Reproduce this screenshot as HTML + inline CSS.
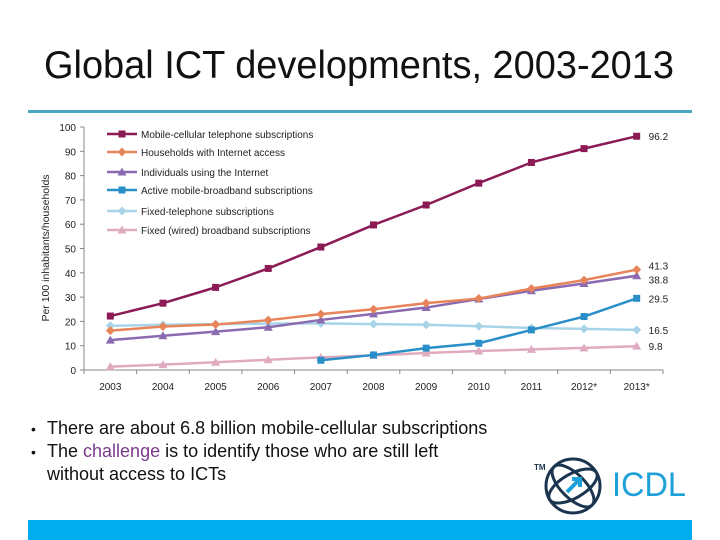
<!DOCTYPE html>
<html><head><meta charset="utf-8"><style>
body{margin:0;width:720px;height:540px;background:#fff;overflow:hidden;font-family:"Liberation Sans",sans-serif;position:relative}
.t{position:absolute}
</style></head><body>
<svg class="t" style="left:0;top:0" width="720" height="100"><text x="44" y="78" font-size="39" fill="#111" font-family="Liberation Sans" textLength="630" lengthAdjust="spacingAndGlyphs">Global ICT developments, 2003-2013</text></svg>
<div class="t" style="left:28px;top:110px;width:664px;height:3px;background:#4aa6bf"></div>
<svg class="t" style="left:0;top:0" width="720" height="540" id="chart"></svg>
<div class="t" style="left:31px;top:417px;font-size:18px;line-height:22px;color:#111">
<div><span style="display:inline-block;width:16px;font-size:14px">•</span>There are about 6.8 billion mobile-cellular subscriptions</div>
<div><span style="display:inline-block;width:16px;font-size:14px">•</span>The <span style="color:#7a3a8a">challenge</span> is to identify those who are still left</div>
<div style="padding-left:16px">without access to ICTs</div>
</div>
<svg class="t" style="left:530px;top:450px" width="170" height="70">
<text x="4" y="20" font-size="8" font-weight="bold" fill="#1b3550" font-family="Liberation Sans">TM</text>
<g fill="none" stroke="#1b3550" stroke-width="3">
<circle cx="43" cy="36" r="27"/>
<ellipse cx="43" cy="36" rx="27" ry="12" transform="rotate(-30 43 36)"/>
<ellipse cx="43" cy="36" rx="27" ry="12" transform="rotate(45 43 36)"/>
</g>
<path d="M37 42 L49 30 M42 29 L50 29 L50 37" stroke="#1ea0d8" stroke-width="4" fill="none"/>
<text x="82" y="46" font-size="34" fill="#1ea0d8" font-family="Liberation Sans" textLength="74" lengthAdjust="spacingAndGlyphs">ICDL</text>
</svg>
<div class="t" style="left:28px;top:520px;width:664px;height:20px;background:#00aeef"></div>
<script>
const categories=["2003","2004","2005","2006","2007","2008","2009","2010","2011","2012*","2013*"];
const yTicks=[0,10,20,30,40,50,60,70,80,90,100];
const mobile=[22.2,27.5,34,41.8,50.6,59.7,67.9,76.9,85.4,91.1,96.2];
const households=[16.2,17.9,18.7,20.5,23,25,27.5,29.4,33.5,37,41.3];
const individuals=[12.3,14.1,15.8,17.6,20.6,23.1,25.7,29.2,32.6,35.6,38.8];
const mobileBB=[null,null,null,null,4,6.2,9,11,16.5,22,29.5];
const fixedTel=[18.2,18.6,18.9,19.1,19.2,18.9,18.6,18,17.3,16.9,16.5];
const fixedBB=[1.4,2.2,3.2,4.2,5.2,6,7,7.8,8.5,9.1,9.8];
const endLabels=["96.2","41.3","38.8","29.5","16.5","9.8"];
const seriesNames=["Mobile-cellular telephone subscriptions","Households with Internet access","Individuals using the Internet","Active mobile-broadband subscriptions","Fixed-telephone subscriptions","Fixed (wired) broadband subscriptions"];
const svg=document.getElementById('chart');const NS='http://www.w3.org/2000/svg';
const X0=84,X1=663,Y0=370,Y1=127;const step=(X1-X0)/categories.length;
const x=i=>X0+step*(i+0.5);const y=v=>Y0-(v/100)*(Y0-Y1);
function mk(t,a){const e=document.createElementNS(NS,t);for(const k in a)e.setAttribute(k,a[k]);svg.appendChild(e);return e;}
let ax=mk('line',{x1:X0,y1:Y1,x2:X0,y2:Y0,stroke:'#888'});


let bx=mk('line',{x1:X0,y1:Y0,x2:X1,y2:Y0,stroke:'#888'});


yTicks.forEach(v=>{mk('line',{x1:X0-4,x2:X0,y1:y(v),y2:y(v),stroke:'#888'});
const t=mk('text',{x:X0-8,y:y(v)+4,'text-anchor':'end','font-size':10,fill:'#222','font-family':'Liberation Sans'});t.textContent=v;

});
for(let i=0;i<=categories.length;i++)mk('line',{x1:X0+step*i,x2:X0+step*i,y1:Y0,y2:Y0+4,stroke:'#888'});
categories.forEach((c,i)=>{const t=mk('text',{x:x(i),y:Y0+20,'text-anchor':'middle','font-size':10,fill:'#222','font-family':'Liberation Sans'});t.textContent=c;

});
const yt=mk('text',{x:0,y:0,transform:'translate(49 248) rotate(-90)','text-anchor':'middle','font-size':10.5,fill:'#222','font-family':'Liberation Sans'});yt.textContent='Per 100 inhabitants/households';


const series=[[mobile,'#8b1a55','sq'],[households,'#e8845a','di'],[individuals,'#8a6ab0','tr'],[mobileBB,'#2a8fc8','sq'],[fixedTel,'#a8d4e8','di'],[fixedBB,'#e0aac0','tr']];
function marker(m,cx,cy,c){if(m==='sq')return mk('rect',{x:cx-3.5,y:cy-3.5,width:7,height:7,fill:c});
if(m==='di')return mk('path',{d:`M${cx} ${cy-4.5}L${cx+4.5} ${cy}L${cx} ${cy+4.5}L${cx-4.5} ${cy}Z`,fill:c});
return mk('path',{d:`M${cx} ${cy-4.5}L${cx+4.5} ${cy+3.5}L${cx-4.5} ${cy+3.5}Z`,fill:c});}
const order=[4,5,3,2,1,0];
order.forEach(si=>{const [d,c,m]=series[si];let p='';d.forEach((v,i)=>{if(v==null)return;p+=(p?'L':'M')+x(i)+' '+y(v);});
const l=mk('path',{d:p,fill:'none',stroke:c,'stroke-width':2.5,'stroke-linejoin':'round'});


d.forEach((v,i)=>{if(v==null)return;const mm=marker(m,x(i),y(v),c);

});
const last=d[d.length-1];const dy=si===1?-4:(si===2?4:0);
const t=mk('text',{x:x(d.length-1)+12,y:y(last)+4+dy,'font-size':10,fill:'#222','font-family':'Liberation Sans'});t.textContent=endLabels[si];

});
seriesNames.forEach((n,i)=>{const ly=[134,152,172,190,211,230][i];const [d,c,m]=series[i];
mk('line',{x1:107,x2:137,y1:ly,y2:ly,stroke:c,'stroke-width':2.5});marker(m,122,ly,c);
const t=mk('text',{x:141,y:ly+4,'font-size':10,fill:'#222','font-family':'Liberation Sans'});t.textContent=n;

});
</script>
</body></html>
